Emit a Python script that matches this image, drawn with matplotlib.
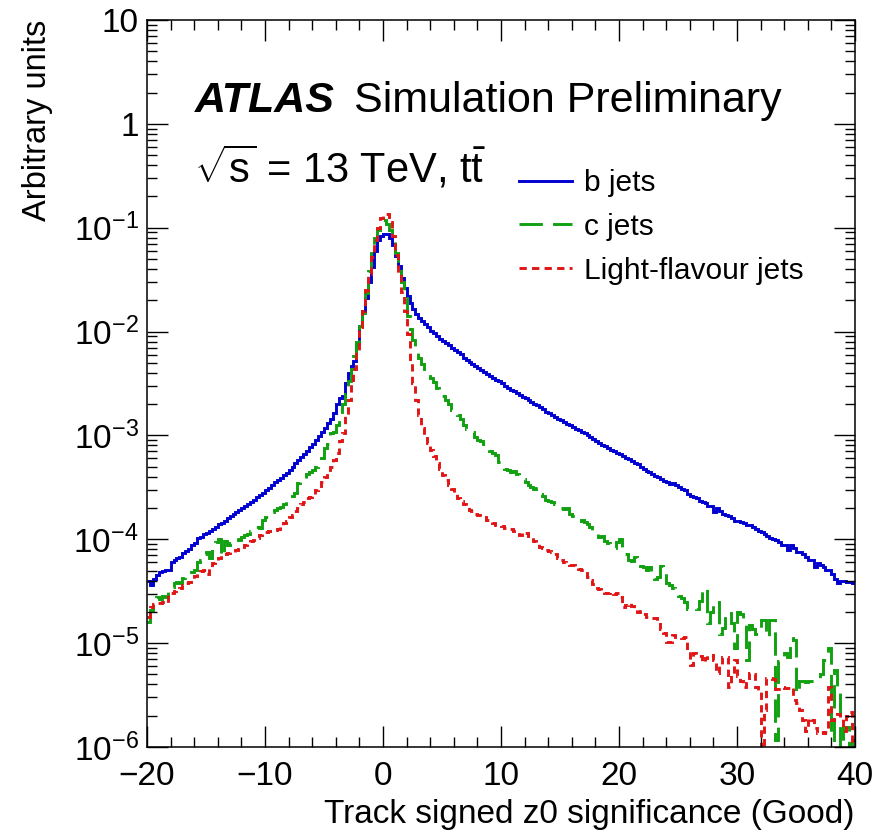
import numpy as np
import matplotlib
matplotlib.use("Agg")
import matplotlib.pyplot as plt
from matplotlib.ticker import MultipleLocator, LogLocator, NullFormatter, FixedLocator, FixedFormatter

plt.rcParams['font.family'] = ['Liberation Sans', 'DejaVu Sans']
plt.rcParams['mathtext.fontset'] = 'custom'
plt.rcParams['mathtext.rm'] = 'Liberation Sans'
plt.rcParams['mathtext.it'] = 'Liberation Sans:italic'
plt.rcParams['mathtext.bf'] = 'Liberation Sans:bold'

# histogram binning: 240 bins of width 0.25 from -20 to 40
x_low, x_high, n_bins = -20, 40, 240

# log10 of the bin contents (8 bins = 2 units per row)
b_jets_log = [
    -4.40, -4.44, -4.38, -4.34, -4.32, -4.31, -4.30, -4.30,
    -4.22, -4.20, -4.18, -4.17, -4.13, -4.11, -4.09, -4.06,
    -4.04, -3.99, -3.98, -3.95, -3.94, -3.92, -3.90, -3.88,
    -3.85, -3.84, -3.82, -3.80, -3.78, -3.76, -3.74, -3.72,
    -3.70, -3.68, -3.66, -3.64, -3.62, -3.59, -3.57, -3.55,
    -3.53, -3.51, -3.48, -3.45, -3.43, -3.41, -3.38, -3.36,
    -3.33, -3.30, -3.27, -3.24, -3.21, -3.18, -3.15, -3.11,
    -3.08, -3.04, -3.01, -2.97, -2.93, -2.88, -2.84, -2.78,
    -2.70, -2.64, -2.62, -2.50, -2.40, -2.33, -2.28, -2.12,
    -1.95, -1.80, -1.68, -1.52, -1.38, -1.22, -1.12, -1.08,
    -1.06, -1.06, -1.10, -1.17, -1.27, -1.37, -1.48, -1.58,
    -1.66, -1.73, -1.78, -1.83, -1.87, -1.90, -1.93, -1.96,
    -1.99, -2.01, -2.04, -2.07, -2.09, -2.11, -2.13, -2.16,
    -2.18, -2.20, -2.22, -2.25, -2.27, -2.29, -2.31, -2.33,
    -2.35, -2.37, -2.39, -2.41, -2.43, -2.45, -2.47, -2.48,
    -2.50, -2.52, -2.54, -2.56, -2.57, -2.59, -2.61, -2.63,
    -2.64, -2.66, -2.68, -2.70, -2.71, -2.73, -2.75, -2.77,
    -2.78, -2.80, -2.82, -2.84, -2.85, -2.87, -2.89, -2.90,
    -2.92, -2.94, -2.95, -2.97, -2.98, -3.00, -3.02, -3.03,
    -3.05, -3.07, -3.09, -3.10, -3.12, -3.14, -3.15, -3.17,
    -3.18, -3.20, -3.22, -3.23, -3.25, -3.27, -3.28, -3.30,
    -3.32, -3.34, -3.35, -3.37, -3.39, -3.40, -3.42, -3.44,
    -3.45, -3.47, -3.46, -3.48, -3.50, -3.52, -3.53, -3.56,
    -3.58, -3.59, -3.60, -3.63, -3.64, -3.65, -3.68, -3.68,
    -3.74, -3.70, -3.73, -3.76, -3.77, -3.78, -3.80, -3.82,
    -3.82, -3.83, -3.84, -3.86, -3.86, -3.88, -3.90, -3.92,
    -3.93, -3.95, -3.97, -3.99, -4.00, -4.01, -4.03, -4.06,
    -4.06, -4.10, -4.06, -4.08, -4.12, -4.12, -4.14, -4.17,
    -4.20, -4.20, -4.27, -4.23, -4.25, -4.27, -4.30, -4.30,
    -4.33, -4.38, -4.42, -4.40, -4.40, -4.41, -4.41, -4.42,
]

c_jets_log = [
    -4.80, -4.68, -4.57, -4.56, -4.58, -4.55, -4.56, -4.47,
    -4.46, -4.42, -4.41, -4.42, -4.37, -4.36, -4.34, -4.32,
    -4.30, -4.22, -4.20, -4.14, -4.12, -4.18, -4.08, -4.03,
    -4.00, -4.16, -4.02, -4.06, -4.04, -4.02, -4.00, -4.01,
    -3.98, -3.96, -3.95, -3.92, -3.90, -3.88, -3.89, -3.81,
    -3.79, -3.78, -3.74, -3.72, -3.70, -3.69, -3.66, -3.62,
    -3.60, -3.58, -3.55, -3.46, -3.45, -3.42, -3.37, -3.35,
    -3.33, -3.30, -3.28, -3.22, -3.12, -3.08, -2.98, -2.97,
    -2.90, -2.84, -2.70, -2.60, -2.48, -2.36, -2.24, -2.10,
    -1.95, -1.82, -1.63, -1.42, -1.24, -1.10, -1.02, -0.98,
    -0.93, -0.96, -1.02, -1.10, -1.24, -1.36, -1.52, -1.68,
    -1.85, -1.98, -2.08, -2.18, -2.25, -2.31, -2.36, -2.41,
    -2.45, -2.49, -2.54, -2.57, -2.62, -2.66, -2.70, -2.76,
    -2.78, -2.80, -2.84, -2.90, -2.94, -2.95, -2.97, -3.02,
    -3.04, -3.05, -3.08, -3.12, -3.15, -3.17, -3.19, -3.26,
    -3.29, -3.32, -3.33, -3.35, -3.34, -3.37, -3.38, -3.42,
    -3.45, -3.48, -3.50, -3.52, -3.51, -3.56, -3.58, -3.62,
    -3.63, -3.64, -3.66, -3.69, -3.70, -3.71, -3.70, -3.76,
    -3.78, -3.81, -3.82, -3.81, -3.83, -3.85, -3.88, -3.92,
    -3.93, -3.98, -3.97, -4.02, -4.04, -4.06, -4.08, -4.03,
    -4.00, -4.10, -4.14, -4.20, -4.21, -4.17, -4.22, -4.26,
    -4.27, -4.30, -4.27, -4.33, -4.38, -4.36, -4.26, -4.28,
    -4.42, -4.44, -4.47, -4.48, -4.55, -4.57, -4.60, -4.67,
    -4.67, -4.66, -4.67, -4.59, -4.47, -4.47, -4.81, -4.70,
    -4.59, -4.60, -4.91, -4.85, -4.70, -4.71, -4.81, -5.05,
    -4.70, -4.72, -4.81, -5.16, -4.83, -4.86, -4.91, -4.91,
    -4.78, -4.78, -4.94, -4.78, -4.78, -5.93, -5.17, -5.16,
    -5.10, -5.13, -4.95, -4.97, -5.48, -5.36, -5.36, -5.37,
    -5.36, -5.36, -5.34, -5.34, -5.30, -5.16, -5.16, -5.05,
    -5.93, -5.26, -5.45, -6.50, -5.81, -5.81, -6.50, -5.93,
]

light_jets_log = [
    -4.75, -4.65, -4.62, -4.61, -4.61, -4.60, -4.61, -4.54,
    -4.52, -4.50, -4.49, -4.47, -4.44, -4.42, -4.41, -4.38,
    -4.35, -4.32, -4.31, -4.30, -4.33, -4.28, -4.23, -4.21,
    -4.18, -4.15, -4.14, -4.13, -4.12, -4.12, -4.10, -4.09,
    -4.07, -4.06, -4.05, -4.02, -4.01, -3.99, -3.96, -3.94,
    -3.93, -3.92, -3.92, -3.91, -3.90, -3.87, -3.84, -3.82,
    -3.79, -3.77, -3.73, -3.70, -3.66, -3.64, -3.60, -3.59,
    -3.56, -3.53, -3.51, -3.45, -3.40, -3.36, -3.30, -3.24,
    -3.17, -3.05, -2.98, -2.80, -2.66, -2.50, -2.36, -2.18,
    -1.96, -1.80, -1.60, -1.45, -1.28, -1.12, -1.00, -0.91,
    -0.88, -0.87, -0.95, -1.08, -1.26, -1.45, -1.62, -1.80,
    -2.02, -2.26, -2.50, -2.66, -2.80, -2.93, -3.00, -3.07,
    -3.14, -3.20, -3.27, -3.32, -3.38, -3.43, -3.48, -3.52,
    -3.56, -3.60, -3.63, -3.66, -3.69, -3.72, -3.73, -3.76,
    -3.77, -3.79, -3.79, -3.81, -3.83, -3.84, -3.86, -3.86,
    -3.87, -3.89, -3.90, -3.90, -3.92, -3.95, -3.96, -3.93,
    -3.94, -3.97, -3.98, -4.02, -4.05, -4.07, -4.08, -4.10,
    -4.11, -4.12, -4.14, -4.18, -4.20, -4.22, -4.24, -4.25,
    -4.25, -4.28, -4.29, -4.30, -4.31, -4.36, -4.39, -4.43,
    -4.47, -4.48, -4.50, -4.52, -4.52, -4.51, -4.53, -4.52,
    -4.56, -4.65, -4.63, -4.61, -4.64, -4.66, -4.70, -4.69,
    -4.72, -4.75, -4.75, -4.76, -4.76, -4.80, -4.86, -4.90,
    -4.99, -4.99, -4.92, -4.94, -4.94, -4.95, -4.94, -5.07,
    -5.21, -5.10, -5.11, -5.12, -5.18, -5.14, -5.11, -5.11,
    -5.16, -5.29, -5.22, -5.13, -5.13, -5.42, -5.30, -5.16,
    -5.32, -5.36, -5.42, -5.38, -5.29, -5.30, -5.42, -5.47,
    -6.50, -5.64, -5.34, -5.34, -5.35, -5.44, -5.44, -5.42,
    -5.43, -5.43, -5.42, -5.55, -5.58, -5.64, -5.74, -5.85,
    -5.72, -5.74, -5.82, -5.87, -5.86, -5.87, -5.86, -5.42,
    -5.74, -5.70, -5.68, -5.72, -5.85, -5.70, -5.66, -6.50,
]

labels = ["b jets", "c jets", "Light-flavour jets"]
colors = ["#0000d0", "#10a010", "#e01515"]
styles = ["-", (0, (8, 3.5)), (0, (2.5, 1.8))]

edges = np.linspace(x_low, x_high, n_bins + 1)

fig = plt.figure(figsize=(8.78, 8.32), dpi=100)
ax = fig.add_axes([0.1674, 0.1022, 0.8064, 0.8738])

for vals, lab, col, ls in zip([b_jets_log, c_jets_log, light_jets_log], labels, colors, styles):
    ax.stairs(10.0 ** np.array(vals), edges, baseline=None, color=col, lw=2.1,
              linestyle=ls, label=lab)

ax.set_yscale('log')
ax.set_xlim(x_low, x_high)
ax.set_ylim(1e-6, 10)

# ROOT-like ticks
ax.xaxis.set_major_locator(MultipleLocator(10))
ax.xaxis.set_minor_locator(MultipleLocator(2))
ax.yaxis.set_major_locator(FixedLocator([1e-6, 1e-5, 1e-4, 1e-3, 1e-2, 1e-1, 1, 10]))
ax.yaxis.set_major_formatter(FixedFormatter(
    ['$10^{-6}$', '$10^{-5}$', '$10^{-4}$', '$10^{-3}$', '$10^{-2}$', '$10^{-1}$', '1', '10']))
ax.yaxis.set_minor_locator(LogLocator(base=10, subs=np.arange(2, 10)))
ax.yaxis.set_minor_formatter(NullFormatter())
ax.tick_params(which='both', direction='in', top=True, right=True, width=1.0, labelsize=24)
ax.tick_params(which='major', length=15)
ax.tick_params(which='minor', length=7.5)
ax.tick_params(axis='x', pad=10)
ax.tick_params(axis='y', pad=6)
for sp in ax.spines.values():
    sp.set_linewidth(1.1)

ax.text(1.0, -0.105, "Track signed z0 significance (Good)", transform=ax.transAxes,
        ha='right', va='baseline', fontsize=24)
ax.text(-0.155, 1.0, "Arbitrary units", transform=ax.transAxes,
        ha='center', va='top', rotation=90, fontsize=23.5)

ax.text(0.067, 0.873, "ATLAS", transform=ax.transAxes, fontsize=31,
        fontweight='bold', fontstyle='italic', va='baseline')
ax.text(0.292, 0.873, "Simulation Preliminary", transform=ax.transAxes,
        fontsize=31, va='baseline')
ax.text(0.067, 0.776, r"$\sqrt{\mathrm{s}}$ = 13 TeV, $\mathrm{t\bar{t}}$", transform=ax.transAxes,
        fontsize=30, va='baseline')

ax.legend(loc='upper left', bbox_to_anchor=(0.525, 0.795), frameon=False,
          fontsize=21.5, handlelength=1.8, handletextpad=0.4, labelspacing=0.53,
          borderpad=0, borderaxespad=0)

fig.savefig("out.png", dpi=100)
